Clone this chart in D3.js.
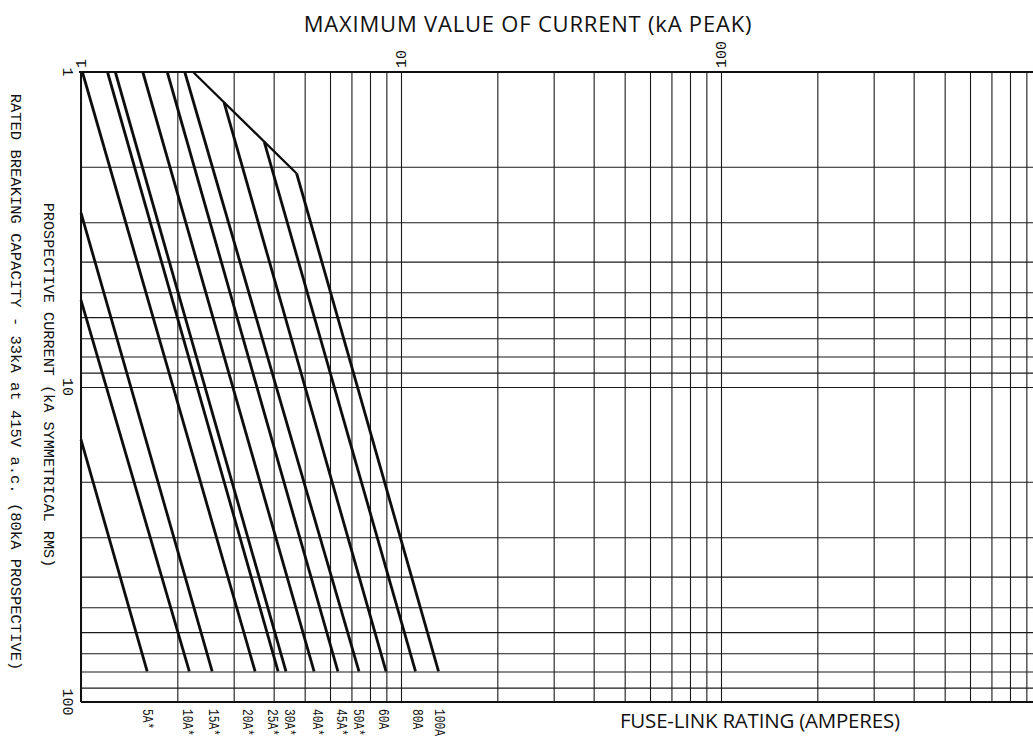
<!DOCTYPE html>
<html>
<head>
<meta charset="utf-8">
<script src="https://cdn.jsdelivr.net/npm/d3@7"></script>
<style>
  html, body { margin: 0; padding: 0; background: #fff; }
  svg { display: block; }
</style>
</head>
<body>
<svg id="chart" width="1033" height="744"></svg>
<script>
// Fuse-link cut-off characteristics: prospective current (kA rms) vs. peak let-through (kA)
const ratings = ["5A*", "10A*", "15A*", "20A*", "25A*", "30A*", "40A*", "45A*", "50A*", "60A", "80A", "100A"];
// upper end of each characteristic
const startProspective = [14.7, 5.3, 2.8, 1, 1, 1, 1, 1, 1, 1.25, 1.67, 2.1];
const startCutoff      = [1, 1, 1, 1.01, 1.21, 1.28, 1.56, 1.86, 2.11, 2.8, 3.74, 4.72];
// lower end of each characteristic (at rated 80 kA prospective)
const endProspective   = [80, 80, 80, 80, 80, 80, 80, 80, 80, 80, 80, 80];
const endCutoff        = [1.61, 2.18, 2.57, 3.50, 4.13, 4.37, 5.35, 6.35, 7.39, 8.98, 11.1, 13.1];
// where each rating label sits along the cut-off axis
const labelCutoff      = [1.61, 2.14, 2.58, 3.30, 3.95, 4.45, 5.45, 6.50, 7.33, 8.80, 11.2, 13.1];

// maximum asymmetrical peak line (prospective kA, peak kA)
const peakProspective = [1, 2.1];
const peakCutoff      = [2.24, 4.72];

// axis ticks
const cutoffTicks = [1, 10, 100];
const cutoffTickLabels = ["1", "10", "100"];
const prospectiveTicks = [1, 10, 100];
const prospectiveTickLabels = ["1", "10", "100"];

const svg = d3.select("#chart");
const W = 1033, H = 744;
const plotLeft = 81, plotTop = 72, plotBottom = 702;

const x = d3.scaleLog().domain([1, 1000]).range([plotLeft, 1041]);
const y = d3.scaleLog().domain([1, 100]).range([plotTop, plotBottom]);

svg.append("rect").attr("width", W).attr("height", H).attr("fill", "#fff");

// full log grid: 1..9 in every decade
const xGrid = [];
for (let d = 1; d < 1000; d *= 10) for (let k = 1; k <= 9; k++) xGrid.push(d * k);
xGrid.push(1000);
const yGrid = [];
for (let d = 1; d < 100; d *= 10) for (let k = 1; k <= 9; k++) yGrid.push(d * k);
yGrid.push(100);

const grid = svg.append("g").attr("class", "grid");

grid.append("g")
  .attr("transform", `translate(0,${plotTop})`)
  .call(d3.axisTop(x).tickValues(xGrid).tickSize(-(plotBottom - plotTop)).tickFormat(""))
  .call(g => g.select(".domain").remove())
  .call(g => g.selectAll("line").attr("stroke", "#1a1a1a").attr("stroke-width", 1.1));

grid.append("g")
  .attr("transform", `translate(${plotLeft},0)`)
  .call(d3.axisLeft(y).tickValues(yGrid).tickSize(-(W - plotLeft)).tickFormat(""))
  .call(g => g.select(".domain").remove())
  .call(g => g.selectAll("line").attr("stroke", "#1a1a1a").attr("stroke-width", 1.1));

// frame: top, left and bottom edges
const frame = svg.append("g").attr("stroke", "#111").attr("stroke-width", 2).attr("fill", "none");
frame.append("line").attr("x1", plotLeft - 2).attr("x2", W).attr("y1", plotTop).attr("y2", plotTop);
frame.append("line").attr("x1", plotLeft).attr("x2", plotLeft).attr("y1", plotTop).attr("y2", plotBottom);
frame.append("line").attr("x1", plotLeft).attr("x2", W).attr("y1", plotBottom).attr("y2", plotBottom);

// cut-off characteristics
const line = d3.line().x(d => x(d[0])).y(d => y(d[1]));
const curves = ratings.map((r, i) => ({
  rating: r,
  pts: [[startCutoff[i], startProspective[i]], [endCutoff[i], endProspective[i]]]
}));

svg.append("g").selectAll("path.curve")
  .data(curves)
  .join("path")
  .attr("class", "curve")
  .attr("d", d => line(d.pts))
  .attr("fill", "none")
  .attr("stroke", "#0d0d0d")
  .attr("stroke-width", 2.8)
  .attr("stroke-linecap", "butt");

svg.append("path")
  .attr("d", line(peakProspective.map((p, i) => [peakCutoff[i], p])))
  .attr("fill", "none")
  .attr("stroke", "#0d0d0d")
  .attr("stroke-width", 2.3);

const mono = "'Liberation Mono', 'DejaVu Sans Mono', monospace";
const sans = "'Open Sans', 'Noto Sans', sans-serif";

// cut-off tick labels above the frame (read upwards)
svg.append("g").selectAll("text")
  .data(cutoffTicks)
  .join("text")
  .attr("transform", d => `translate(${x(d) + 1},${plotTop - 4}) rotate(-90)`)
  .attr("text-anchor", "start")
  .attr("dominant-baseline", "central")
  .attr("font-family", mono)
  .attr("font-size", 15)
  .attr("fill", "#111")
  .text((d, i) => cutoffTickLabels[i]);

// prospective current tick labels left of the frame (read downwards)
svg.append("g").selectAll("text")
  .data(prospectiveTicks)
  .join("text")
  .attr("transform", d => `translate(66,${y(d)}) rotate(90)`)
  .attr("text-anchor", "middle")
  .attr("dominant-baseline", "central")
  .attr("font-family", mono)
  .attr("font-size", 15)
  .attr("fill", "#111")
  .text((d, i) => prospectiveTickLabels[i]);

// fuse-link rating labels below the frame (narrow lettering)
svg.append("g").selectAll("text")
  .data(ratings)
  .join("text")
  .attr("transform", (d, i) => `translate(${x(labelCutoff[i])},${plotBottom + 7}) rotate(90) scale(0.8,1)`)
  .attr("text-anchor", "start")
  .attr("dominant-baseline", "central")
  .attr("font-family", mono)
  .attr("font-size", 14)
  .attr("fill", "#111")
  .text(d => d);

// axis titles
svg.append("text")
  .attr("x", 528).attr("y", 32)
  .attr("text-anchor", "middle")
  .attr("font-family", sans)
  .attr("font-size", 22)
  .attr("letter-spacing", 0.8)
  .attr("fill", "#111")
  .text("MAXIMUM VALUE OF CURRENT (kA PEAK)");

svg.append("text")
  .attr("x", 760).attr("y", 728)
  .attr("text-anchor", "middle")
  .attr("font-family", sans)
  .attr("font-size", 20.5)
  .attr("textLength", 280)
  .attr("lengthAdjust", "spacing")
  .attr("fill", "#111")
  .text("FUSE-LINK RATING (AMPERES)");

svg.append("text")
  .attr("transform", "translate(48,385) rotate(90)")
  .attr("text-anchor", "middle")
  .attr("dominant-baseline", "central")
  .attr("font-family", mono)
  .attr("font-size", 15.2)
  .attr("fill", "#111")
  .text("PROSPECTIVE CURRENT (kA SYMMETRICAL RMS)");

svg.append("text")
  .attr("transform", "translate(15,382) rotate(90)")
  .attr("text-anchor", "middle")
  .attr("dominant-baseline", "central")
  .attr("font-family", mono)
  .attr("font-size", 15.5)
  .attr("fill", "#111")
  .text("RATED BREAKING CAPACITY - 33kA at 415V a.c. (80kA PROSPECTIVE)");
</script>
</body>
</html>
